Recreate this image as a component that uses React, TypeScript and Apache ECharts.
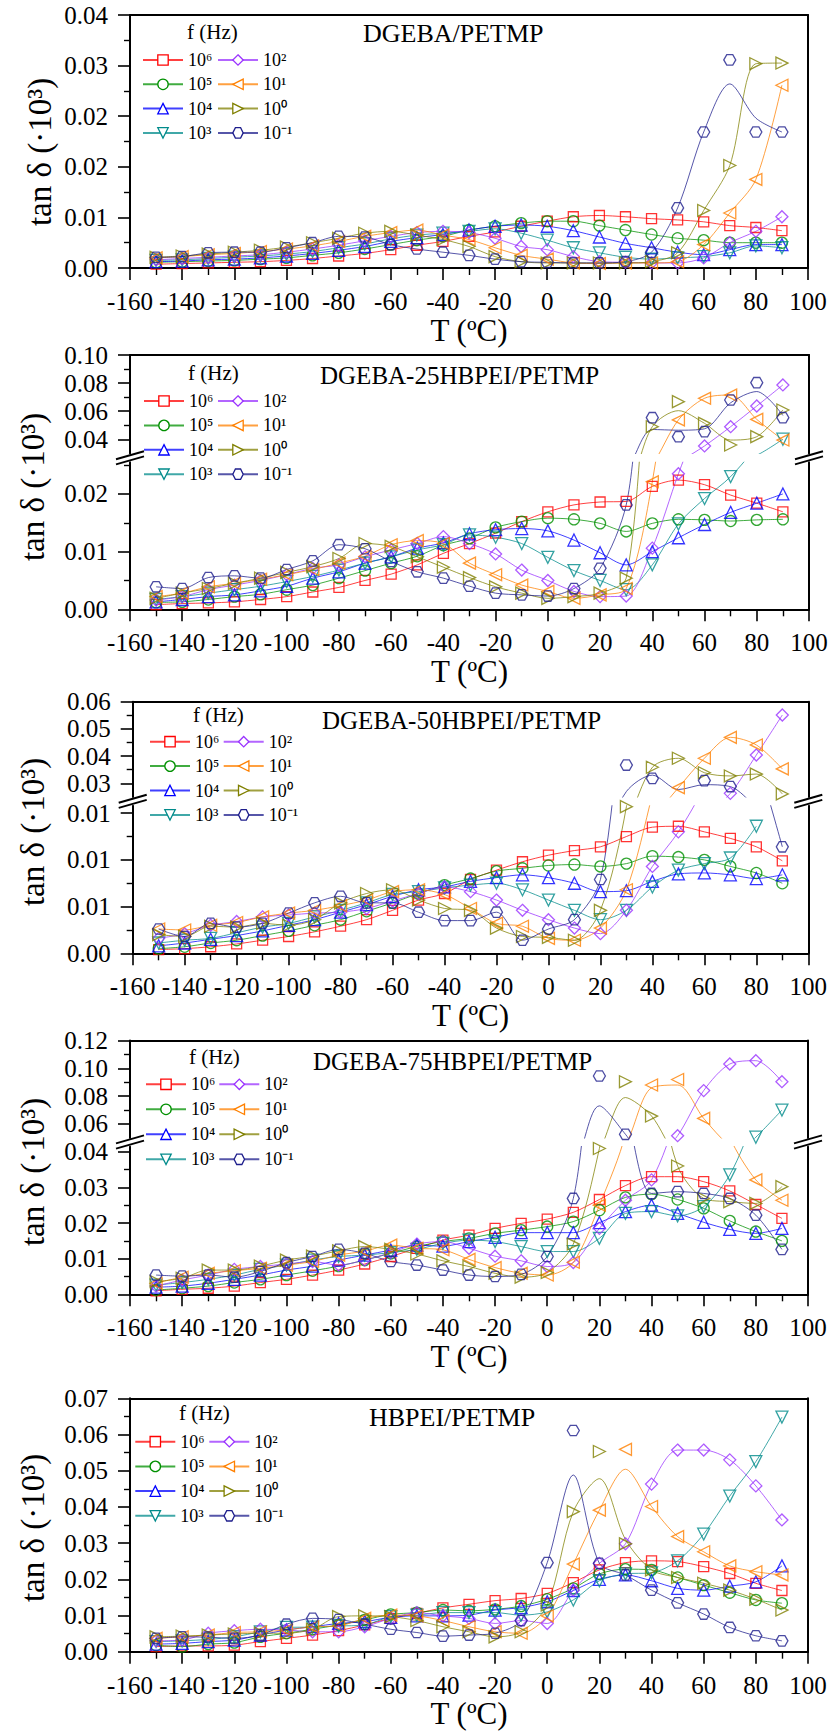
import React, { useEffect, useRef } from "react";
import * as echarts from "echarts";

// ---------------- data ----------------
const TEMPS = [-150, -140, -130, -120, -110, -100, -90, -80, -70, -60, -50, -40, -30, -20, -10, 0, 10, 20, 30, 40, 50, 60, 70, 80, 90];
const FREQ_LABELS = ["10⁶", "10⁵", "10⁴", "10³", "10²", "10¹", "10⁰", "10⁻¹"];
const PANEL_TITLES = ["DGEBA/PETMP", "DGEBA-25HBPEI/PETMP", "DGEBA-50HBPEI/PETMP", "DGEBA-75HBPEI/PETMP", "HBPEI/PETMP"];
const X_LABEL = "T (ºC)";
const Y_LABEL = "tan δ (·10³)";
const LEGEND_TITLE = "f (Hz)";

// Panel 1: DGEBA/PETMP
const P1_F6 = [0.0006, 0.0007, 0.0008, 0.0009, 0.001, 0.0012, 0.0015, 0.0019, 0.0023, 0.0029, 0.0036, 0.0042, 0.005, 0.0057, 0.0066, 0.0074, 0.0081, 0.0083, 0.0081, 0.0078, 0.0076, 0.0073, 0.0067, 0.0064, 0.0059];
const P1_F5 = [0.0009, 0.001, 0.0011, 0.0012, 0.0014, 0.0016, 0.002, 0.0024, 0.003, 0.0037, 0.0044, 0.005, 0.006, 0.0066, 0.0071, 0.0074, 0.0074, 0.0067, 0.006, 0.0053, 0.0047, 0.0044, 0.004, 0.004, 0.004];
const P1_F4 = [0.001, 0.0011, 0.0013, 0.0014, 0.0016, 0.0019, 0.0023, 0.0028, 0.0034, 0.0042, 0.0048, 0.0053, 0.006, 0.0066, 0.0068, 0.0066, 0.0059, 0.0049, 0.0039, 0.0032, 0.0025, 0.0021, 0.0029, 0.0037, 0.0037];
const P1_F3 = [0.0012, 0.0013, 0.0015, 0.0017, 0.0019, 0.0022, 0.0026, 0.0032, 0.0038, 0.0046, 0.0052, 0.0055, 0.0058, 0.0062, 0.0055, 0.0044, 0.0032, 0.0024, 0.0017, 0.0014, 0.0016, 0.0018, 0.0024, 0.0035, 0.0032];
const P1_F2 = [0.0013, 0.0015, 0.0017, 0.0019, 0.0021, 0.0025, 0.003, 0.0036, 0.0043, 0.005, 0.0056, 0.0058, 0.0056, 0.0047, 0.0034, 0.0029, 0.0018, 0.001, 0.0009, 0.0008, 0.0008, 0.0016, 0.004, 0.0058, 0.0081];
const P1_F1 = [0.0016, 0.0018, 0.0021, 0.0023, 0.0026, 0.003, 0.0035, 0.0042, 0.005, 0.0056, 0.006, 0.0052, 0.0045, 0.0032, 0.002, 0.0014, 0.0008, 0.0007, 0.0008, 0.0008, 0.001, 0.0037, 0.0087, 0.014, 0.0289];
const P1_F0 = [0.0017, 0.0019, 0.0022, 0.0025, 0.0028, 0.0033, 0.004, 0.0047, 0.0055, 0.0058, 0.0052, 0.0045, 0.0034, 0.0018, 0.001, 0.0008, 0.0008, 0.0008, 0.0008, 0.001, 0.0024, 0.0091, 0.0162, 0.0323, 0.0324];
const P1_FM1 = [0.0017, 0.0018, 0.0024, 0.0025, 0.0025, 0.0032, 0.004, 0.005, 0.0049, 0.0037, 0.003, 0.0025, 0.002, 0.0014, 0.001, 0.0009, 0.0008, 0.0008, 0.001, 0.0025, 0.0095, 0.0215, 0.0329, 0.0215, 0.0215];
// fitted-curve values that differ from the plotted points (series index -> T -> value)
const P1_CURVE_FIX: Record<number, Record<number, number>> = { 7: { 70: 0.0291, 80: 0.0237 } };

// Panel 2: DGEBA-25HBPEI/PETMP
const P2_F6 = [0.0008, 0.001, 0.0011, 0.0013, 0.0017, 0.0022, 0.003, 0.0038, 0.005, 0.0061, 0.0077, 0.0097, 0.0114, 0.0132, 0.0152, 0.0169, 0.0181, 0.0186, 0.0187, 0.0213, 0.0224, 0.0216, 0.0198, 0.0184, 0.0169];
const P2_F5 = [0.0012, 0.0013, 0.0017, 0.0022, 0.0026, 0.0034, 0.0042, 0.0054, 0.0067, 0.008, 0.0092, 0.0111, 0.0123, 0.0142, 0.0152, 0.0158, 0.0156, 0.0149, 0.0135, 0.0149, 0.0156, 0.0155, 0.0153, 0.0155, 0.0156];
const P2_F4 = [0.0013, 0.0017, 0.0022, 0.0025, 0.0032, 0.004, 0.0054, 0.0065, 0.008, 0.0091, 0.0106, 0.0115, 0.0131, 0.0138, 0.014, 0.0136, 0.012, 0.0098, 0.0077, 0.01, 0.0124, 0.0147, 0.0168, 0.0184, 0.02];
const P2_F3 = [0.0017, 0.0022, 0.0028, 0.0034, 0.004, 0.0048, 0.0057, 0.0068, 0.008, 0.0091, 0.0103, 0.0112, 0.0129, 0.0125, 0.0114, 0.009, 0.0067, 0.005, 0.0034, 0.0077, 0.0148, 0.0192, 0.023, 0.0287, 0.0401];
const P2_F2 = [0.0016, 0.0022, 0.0034, 0.0042, 0.005, 0.006, 0.0071, 0.0077, 0.0091, 0.0103, 0.0114, 0.0126, 0.0114, 0.0096, 0.0068, 0.005, 0.0031, 0.0022, 0.0023, 0.0106, 0.0235, 0.0353, 0.049, 0.0637, 0.0787];
const P2_F1 = [0.0022, 0.0028, 0.0039, 0.0045, 0.0052, 0.006, 0.0069, 0.008, 0.0092, 0.0112, 0.0119, 0.0114, 0.008, 0.006, 0.0042, 0.0031, 0.0019, 0.0025, 0.0036, 0.0221, 0.0538, 0.0692, 0.0715, 0.0542, 0.0395];
const P2_F0 = [0.0019, 0.0028, 0.0036, 0.0045, 0.0054, 0.0064, 0.0074, 0.0088, 0.0114, 0.0109, 0.0091, 0.0073, 0.0055, 0.0039, 0.0028, 0.0019, 0.0022, 0.0028, 0.0054, 0.049, 0.0668, 0.0514, 0.036, 0.0419, 0.0609];
const P2_FM1 = [0.0039, 0.0036, 0.0055, 0.0058, 0.0054, 0.0069, 0.0084, 0.0112, 0.0105, 0.0083, 0.0065, 0.0054, 0.004, 0.0028, 0.0025, 0.0023, 0.0036, 0.0071, 0.0181, 0.0554, 0.0419, 0.0455, 0.068, 0.0803, 0.0554];
const P2_CURVE_FIX: Record<number, Record<number, number>> = {
  6: { 50: 0.0604, 70: 0.0395 },
  7: { 40: 0.047, 50: 0.0465, 60: 0.0475, 70: 0.066, 80: 0.074, 90: 0.057 },
};

// Panel 3: DGEBA-50HBPEI/PETMP
const P3_F6 = [0.0004, 0.0005, 0.0007, 0.001, 0.0014, 0.0018, 0.0023, 0.0029, 0.0036, 0.0046, 0.0057, 0.0064, 0.0079, 0.0089, 0.0098, 0.0105, 0.011, 0.0114, 0.0125, 0.0135, 0.0136, 0.013, 0.0123, 0.0114, 0.0099];
const P3_F5 = [0.0005, 0.0007, 0.0011, 0.0014, 0.0019, 0.0024, 0.003, 0.0036, 0.0045, 0.0054, 0.0064, 0.0073, 0.008, 0.0088, 0.0091, 0.0094, 0.0095, 0.0093, 0.0096, 0.0104, 0.0103, 0.01, 0.0093, 0.0086, 0.0075];
const P3_F4 = [0.0008, 0.0011, 0.0015, 0.0019, 0.0024, 0.003, 0.0036, 0.0044, 0.0052, 0.0061, 0.0068, 0.0071, 0.0077, 0.0081, 0.0084, 0.0081, 0.0075, 0.0066, 0.0067, 0.0077, 0.0085, 0.0086, 0.0084, 0.008, 0.0084];
const P3_F3 = [0.0011, 0.0014, 0.0016, 0.0022, 0.0028, 0.0032, 0.0039, 0.0046, 0.0054, 0.0063, 0.0066, 0.007, 0.0073, 0.0075, 0.0068, 0.0057, 0.0046, 0.0036, 0.0046, 0.0071, 0.0089, 0.0096, 0.0102, 0.0136, null];
const P3_F2 = [0.0016, 0.0021, 0.003, 0.0034, 0.0039, 0.0041, 0.0043, 0.0044, 0.0048, 0.0056, 0.0064, 0.0071, 0.0066, 0.0057, 0.0046, 0.0036, 0.0027, 0.0021, 0.0046, 0.0093, 0.013, 0.018, 0.0263, 0.0404, 0.0551];
const P3_F1 = [0.0026, 0.0025, 0.003, 0.0033, 0.0039, 0.0043, 0.0046, 0.0051, 0.0057, 0.0066, 0.0068, 0.0063, 0.0048, 0.0032, 0.0029, 0.0016, 0.0014, 0.0027, 0.0068, 0.017, 0.0284, 0.0392, 0.0469, 0.0441, 0.0353];
const P3_F0 = [0.002, 0.0018, 0.0029, 0.0028, 0.0032, 0.003, 0.0036, 0.0054, 0.0064, 0.0068, 0.0057, 0.0048, 0.0046, 0.0027, 0.0018, 0.0017, 0.0014, 0.0046, 0.0157, 0.0359, 0.0392, 0.0339, 0.0327, 0.0334, 0.0261];
const P3_FM1 = [0.0026, 0.0018, 0.0032, 0.0028, 0.0032, 0.0043, 0.0054, 0.0061, 0.0054, 0.0054, 0.0044, 0.0035, 0.0035, 0.0044, 0.0014, 0.0026, 0.0036, 0.0079, 0.0367, 0.0318, 0.0245, 0.031, 0.0288, 0.02, 0.0114];
const P3_CURVE_FIX: Record<number, Record<number, number>> = {
  7: { 30: 0.027, 40: 0.033, 50: 0.0277, 60: 0.0295, 70: 0.0288, 80: 0.021 },
};

// Panel 4: DGEBA-75HBPEI/PETMP
const P4_F6 = [0.001, 0.0014, 0.0017, 0.0023, 0.0033, 0.0042, 0.0054, 0.0068, 0.0085, 0.0106, 0.0129, 0.0152, 0.0166, 0.0185, 0.0199, 0.0211, 0.023, 0.0266, 0.0305, 0.033, 0.033, 0.0316, 0.029, 0.0252, 0.0213];
const P4_F5 = [0.0012, 0.0017, 0.0023, 0.0033, 0.0042, 0.0054, 0.0066, 0.0079, 0.0096, 0.0115, 0.0134, 0.0148, 0.0157, 0.0171, 0.018, 0.019, 0.0204, 0.0236, 0.0272, 0.0281, 0.0266, 0.0241, 0.0206, 0.0176, 0.015];
const P4_F4 = [0.002, 0.0023, 0.0031, 0.0042, 0.0054, 0.0068, 0.0079, 0.0096, 0.011, 0.0124, 0.0138, 0.0135, 0.0148, 0.016, 0.0173, 0.0173, 0.0173, 0.0201, 0.0232, 0.025, 0.0227, 0.0202, 0.0182, 0.0171, 0.0185];
const P4_F3 = [0.0026, 0.0033, 0.0042, 0.0054, 0.007, 0.0082, 0.0096, 0.0106, 0.011, 0.0117, 0.0126, 0.0143, 0.0152, 0.0148, 0.0134, 0.012, 0.012, 0.0157, 0.0227, 0.0232, 0.022, 0.0246, 0.0335, 0.0505, 0.07];
const P4_F2 = [0.0023, 0.004, 0.0054, 0.007, 0.0078, 0.0085, 0.0092, 0.0082, 0.0096, 0.0117, 0.0141, 0.0148, 0.0129, 0.0107, 0.0094, 0.0078, 0.0089, 0.0185, 0.0264, 0.0321, 0.0516, 0.084, 0.1031, 0.1055, 0.0904];
const P4_F1 = [0.0031, 0.0048, 0.0059, 0.0066, 0.0073, 0.0082, 0.0092, 0.011, 0.0121, 0.0138, 0.0129, 0.0125, 0.0098, 0.0075, 0.0059, 0.0054, 0.009, 0.025, 0.045, 0.088, 0.092, 0.064, 0.044, 0.0321, 0.0264];
const P4_F0 = [0.0036, 0.0045, 0.0068, 0.0068, 0.0079, 0.0096, 0.0107, 0.0122, 0.0134, 0.0126, 0.0113, 0.0094, 0.0078, 0.0059, 0.0048, 0.0061, 0.0141, 0.0409, 0.0904, 0.0657, 0.036, 0.0269, 0.026, 0.0255, 0.0302];
const P4_FM1 = [0.0054, 0.0051, 0.0054, 0.0048, 0.0064, 0.0089, 0.0106, 0.0126, 0.0115, 0.0092, 0.0082, 0.0068, 0.0054, 0.005, 0.0056, 0.0106, 0.0269, 0.0945, 0.0526, 0.0283, 0.0288, 0.0283, 0.0269, 0.0222, 0.0126];
const P4_CURVE_FIX: Record<number, Record<number, number>> = {
  5: { 40: 0.086, 50: 0.088 },
  6: { 30: 0.079 },
  7: { 20: 0.073 },
};

// Panel 5: HBPEI/PETMP
const P5_F6 = [0.0014, 0.0016, 0.0016, 0.0018, 0.0028, 0.0037, 0.0046, 0.0058, 0.0074, 0.0092, 0.0106, 0.0121, 0.0131, 0.0141, 0.0147, 0.0161, 0.0191, 0.0226, 0.0246, 0.0251, 0.0249, 0.0235, 0.0216, 0.0189, 0.0169];
const P5_F5 = [0.0018, 0.0014, 0.0021, 0.0025, 0.0041, 0.0051, 0.0062, 0.0074, 0.0088, 0.0103, 0.0108, 0.0115, 0.0113, 0.0117, 0.0126, 0.0145, 0.0175, 0.0215, 0.0228, 0.0226, 0.0205, 0.0184, 0.0163, 0.0143, 0.0134];
const P5_F4 = [0.0021, 0.0023, 0.0028, 0.0032, 0.0046, 0.006, 0.0069, 0.0078, 0.0083, 0.0095, 0.0099, 0.0099, 0.0101, 0.0115, 0.0122, 0.0138, 0.0169, 0.02, 0.0212, 0.0196, 0.0175, 0.017, 0.0181, 0.0193, 0.0237];
const P5_F3 = [0.0028, 0.003, 0.0034, 0.0041, 0.0055, 0.0067, 0.0068, 0.0071, 0.0074, 0.0097, 0.0101, 0.0108, 0.0108, 0.0108, 0.0101, 0.011, 0.0143, 0.0196, 0.0215, 0.0218, 0.0251, 0.0325, 0.043, 0.0525, 0.0648];
const P5_F2 = [0.003, 0.0032, 0.0051, 0.0058, 0.0062, 0.006, 0.0055, 0.0055, 0.0069, 0.0092, 0.0108, 0.0099, 0.0092, 0.0078, 0.0086, 0.0078, 0.017, 0.0244, 0.0298, 0.0463, 0.0557, 0.0557, 0.053, 0.0458, 0.0364];
const P5_F1 = [0.0037, 0.0041, 0.0046, 0.0053, 0.0055, 0.006, 0.0069, 0.0071, 0.0092, 0.0101, 0.0099, 0.0086, 0.0069, 0.0055, 0.0051, 0.0099, 0.0242, 0.0391, 0.0559, 0.0401, 0.0318, 0.0276, 0.0237, 0.0221, 0.0212];
const P5_F0 = [0.0041, 0.0043, 0.0046, 0.0049, 0.0051, 0.0051, 0.0062, 0.0097, 0.0099, 0.0097, 0.0086, 0.0069, 0.0055, 0.0041, 0.0055, 0.0129, 0.0387, 0.0553, 0.0298, 0.0226, 0.0205, 0.0189, 0.017, 0.0145, 0.0115];
const P5_FM1 = [0.0037, 0.0041, 0.004, 0.0037, 0.0046, 0.0076, 0.0092, 0.0089, 0.0076, 0.0062, 0.0053, 0.0043, 0.0046, 0.0051, 0.0086, 0.0246, 0.0611, 0.0244, 0.0212, 0.017, 0.0135, 0.0104, 0.0067, 0.0044, 0.003];
const P5_CURVE_FIX: Record<number, Record<number, number>> = {
  5: { 30: 0.0504 },
  6: { 20: 0.0478, 30: 0.031 },
  7: { 10: 0.0488 },
};

// Tick values and labels
const P1_Y_TICKS = [0, 0.008, 0.016, 0.024, 0.032, 0.04];
const P1_Y_LABELS = ["0.00", "0.01", "0.02", "0.02", "0.03", "0.04"];
const P1_Y_MINOR = [0.004, 0.012, 0.02, 0.028, 0.036];
const P2_UP_TICKS = [0.04, 0.06, 0.08, 0.1];
const P2_UP_LABELS = ["0.04", "0.06", "0.08", "0.10"];
const P2_UP_MINOR = [0.05, 0.07, 0.09];
const P2_LO_TICKS = [0, 0.01, 0.02];
const P2_LO_LABELS = ["0.00", "0.01", "0.02"];
const P2_LO_MINOR = [0.005, 0.015, 0.025];
const P3_UP_TICKS = [0.03, 0.04, 0.05, 0.06];
const P3_UP_LABELS = ["0.03", "0.04", "0.05", "0.06"];
const P3_UP_MINOR = [0.035, 0.045, 0.055];
const P3_LO_TICKS = [0, 0.005, 0.01, 0.015];
const P3_LO_LABELS = ["0.00", "0.01", "0.01", "0.01"];
const P3_LO_MINOR = [0.0025, 0.0075, 0.0125];
const P4_UP_TICKS = [0.06, 0.08, 0.1, 0.12];
const P4_UP_LABELS = ["0.06", "0.08", "0.10", "0.12"];
const P4_UP_MINOR = [0.07, 0.09, 0.11];
const P4_LO_TICKS = [0, 0.01, 0.02, 0.03, 0.04];
const P4_LO_LABELS = ["0.00", "0.01", "0.02", "0.03", "0.04"];
const P4_LO_MINOR = [0.005, 0.015, 0.025, 0.035];
const P5_Y_TICKS = [0, 0.01, 0.02, 0.03, 0.04, 0.05, 0.06, 0.07];
const P5_Y_LABELS = ["0.00", "0.01", "0.02", "0.03", "0.04", "0.05", "0.06", "0.07"];
const P5_Y_MINOR = [0.005, 0.015, 0.025, 0.035, 0.045, 0.055, 0.065];

// ---------------- styles / layout ----------------
const FONT = "'Liberation Serif', 'Times New Roman', Times, serif";
const COLORS = ["#ff0000", "#009000", "#0000ff", "#008b8b", "#9a32ff", "#ff8000", "#808000", "#1e1e8c"];
const HEX = "path://M-1,0 L-0.5,-0.866 L0.5,-0.866 L1,0 L0.5,0.866 L-0.5,0.866 Z";
const SYMBOLS = ["rect", "circle", "triangle", "triangle", "diamond", "triangle", "triangle", HEX];
const ROTATES = [0, 0, 0, 180, 0, 90, -90, 0];
const SIZES = [10, 11, 12, 12, 12, 12, 12, 12];

type Seg = { top: number; bottom: number; min: number; max: number; ticks: number[]; labels: string[]; minor: number[] };
type Panel = {
  values: (number | null)[][];
  fix: Record<number, Record<number, number>>;
  left: number;
  right: number;
  segs: Seg[];
  legendTop: number;
  legendGap: number;
  legendX: [number, number];
  fHz: [number, number];
  title: [number, number, number];
  yTitle: [number, number];
  breakY?: number;
};

const PANELS: Panel[] = [
  {
    values: [P1_F6, P1_F5, P1_F4, P1_F3, P1_F2, P1_F1, P1_F0, P1_FM1],
    fix: P1_CURVE_FIX,
    left: 130, right: 808,
    segs: [{ top: 15, bottom: 268, min: 0, max: 0.04, ticks: P1_Y_TICKS, labels: P1_Y_LABELS, minor: P1_Y_MINOR }],
    legendTop: 50, legendGap: 4.3, legendX: [142, 217], fHz: [187, 32], title: [363, 33, 26], yTitle: [40, 152],
  },
  {
    values: [P2_F6, P2_F5, P2_F4, P2_F3, P2_F2, P2_F1, P2_F0, P2_FM1],
    fix: P2_CURVE_FIX,
    left: 130, right: 809,
    segs: [
      { top: 355, bottom: 453.4, min: 0.03, max: 0.1, ticks: P2_UP_TICKS, labels: P2_UP_LABELS, minor: P2_UP_MINOR },
      { top: 462.2, bottom: 609.3, min: 0, max: 0.0255, ticks: P2_LO_TICKS, labels: P2_LO_LABELS, minor: P2_LO_MINOR },
    ],
    legendTop: 391, legendGap: 4.4, legendX: [143, 217], fHz: [188, 373], title: [320, 375, 25], yTitle: [33, 487], breakY: 457.8,
  },
  {
    values: [P3_F6, P3_F5, P3_F4, P3_F3, P3_F2, P3_F1, P3_F0, P3_FM1],
    fix: P3_CURVE_FIX,
    left: 132.7, right: 808.3,
    segs: [
      { top: 701.7, bottom: 796.9, min: 0.025, max: 0.06, ticks: P3_UP_TICKS, labels: P3_UP_LABELS, minor: P3_UP_MINOR },
      { top: 805.7, bottom: 953.3, min: 0, max: 0.0158, ticks: P3_LO_TICKS, labels: P3_LO_LABELS, minor: P3_LO_MINOR },
    ],
    legendTop: 731.7, legendGap: 4.4, legendX: [149, 222.7], fHz: [193, 715], title: [322, 720, 25], yTitle: [33, 832], breakY: 801.3,
  },
  {
    values: [P4_F6, P4_F5, P4_F4, P4_F3, P4_F2, P4_F1, P4_F0, P4_FM1],
    fix: P4_CURVE_FIX,
    left: 130, right: 808,
    segs: [
      { top: 1040.5, bottom: 1137.9, min: 0.05, max: 0.12, ticks: P4_UP_TICKS, labels: P4_UP_LABELS, minor: P4_UP_MINOR },
      { top: 1146.4, bottom: 1294.3, min: 0, max: 0.0415, ticks: P4_LO_TICKS, labels: P4_LO_LABELS, minor: P4_LO_MINOR },
    ],
    legendTop: 1074.3, legendGap: 5, legendX: [145, 218.3], fHz: [189, 1057], title: [313, 1061, 25], yTitle: [33, 1172], breakY: 1142,
  },
  {
    values: [P5_F6, P5_F5, P5_F4, P5_F3, P5_F2, P5_F1, P5_F0, P5_FM1],
    fix: P5_CURVE_FIX,
    left: 130, right: 808,
    segs: [{ top: 1398.3, bottom: 1651.7, min: 0, max: 0.07, ticks: P5_Y_TICKS, labels: P5_Y_LABELS, minor: P5_Y_MINOR }],
    legendTop: 1431.7, legendGap: 4.7, legendX: [134.3, 208.3], fHz: [179, 1413], title: [369, 1417, 26], yTitle: [33, 1528],
  },
];

const BLACK = "#000";

function buildOption() {
  const grid: any[] = [];
  const xAxis: any[] = [];
  const yAxis: any[] = [];
  const series: any[] = [];
  const legend: any[] = [];
  const graphic: any[] = [];

  PANELS.forEach((p, pi) => {
    const width = p.right - p.left;
    p.segs.forEach((s, si) => {
      const gi = grid.length;
      grid.push({ left: p.left, top: s.top, width, height: s.bottom - s.top, containLabel: false });
      const isTop = si === 0;
      const isBottom = si === p.segs.length - 1;
      const xi = xAxis.length;
      xAxis.push({
        type: "value", gridIndex: gi, min: -160, max: 100, interval: 20,
        position: isBottom ? "bottom" : "top",
        axisLine: { show: true, onZero: false, lineStyle: { color: BLACK, width: 2 } },
        axisTick: { show: isBottom, inside: false, length: 12, lineStyle: { color: BLACK, width: 1.6 } },
        minorTick: { show: isBottom, splitNumber: 2, length: 7, lineStyle: { color: BLACK, width: 1.4 } },
        axisLabel: { show: isBottom, margin: 21, fontSize: 25, fontFamily: FONT, color: BLACK },
        splitLine: { show: false },
        minorSplitLine: { show: false },
      });
      if (isBottom && isTop) {
        xAxis.push({
          type: "value", gridIndex: gi, min: -160, max: 100, position: "top",
          axisLine: { show: true, onZero: false, lineStyle: { color: BLACK, width: 2 } },
          axisTick: { show: false }, axisLabel: { show: false }, splitLine: { show: false },
        });
      }
      const yi = yAxis.length;
      const ticks = s.ticks;
      const labels = s.labels;
      yAxis.push({
        type: "value", gridIndex: gi, min: s.min, max: s.max, position: "left",
        axisLine: { show: true, onZero: false, lineStyle: { color: BLACK, width: 2 } },
        axisTick: { show: true, inside: false, length: 12, customValues: ticks, lineStyle: { color: BLACK, width: 1.6 } },
        axisLabel: {
          show: true, customValues: ticks, margin: 22, fontSize: 25, fontFamily: FONT, color: BLACK,
          formatter: (v: number) => {
            const k = ticks.findIndex((t) => Math.abs(t - v) < 1e-9);
            return k >= 0 ? labels[k] : "";
          },
        },
        splitLine: { show: false },
      });
      yAxis.push({
        type: "value", gridIndex: gi, min: s.min, max: s.max, position: "left", offset: 0,
        axisLine: { show: false, onZero: false },
        axisTick: { show: true, inside: false, length: 6, customValues: s.minor, lineStyle: { color: BLACK, width: 1.4 } },
        axisLabel: { show: false }, splitLine: { show: false },
      });
      yAxis.push({
        type: "value", gridIndex: gi, min: s.min, max: s.max, position: "right",
        axisLine: { show: true, onZero: false, lineStyle: { color: BLACK, width: 2 } },
        axisTick: { show: false }, axisLabel: { show: false }, splitLine: { show: false },
      });

      p.values.forEach((vals, fi) => {
        const fix = p.fix[fi] || {};
        const curve = TEMPS.map((t, k) => {
          const v = fix[t] !== undefined ? fix[t] : vals[k];
          return [t, v == null ? "-" : v];
        });
        const pts = TEMPS.map((t, k) => [t, vals[k]]).filter((d) => d[1] != null);
        const c = COLORS[fi];
        series.push({
          type: "line", name: FREQ_LABELS[fi], xAxisIndex: xi, yAxisIndex: yi,
          data: curve, smooth: 0.3, showSymbol: false,
          symbol: SYMBOLS[fi], symbolSize: SIZES[fi], symbolRotate: ROTATES[fi], symbolKeepAspect: true,
          lineStyle: { color: c, width: 1, opacity: 0.75 },
          itemStyle: { color: "rgba(255,255,255,0)", borderColor: c, borderWidth: 1.3 },
          clip: true, silent: true, z: 2, animation: false,
        });
        series.push({
          type: "scatter", name: FREQ_LABELS[fi] + " points", xAxisIndex: xi, yAxisIndex: yi,
          data: pts, symbol: SYMBOLS[fi], symbolSize: SIZES[fi], symbolRotate: ROTATES[fi], symbolKeepAspect: true,
          itemStyle: { color: "rgba(255,255,255,0)", borderColor: c, borderWidth: 1.3 },
          clip: true, silent: true, z: 3, animation: false,
        });
      });
    });

    // legends (two columns)
    [0, 1].forEach((col) => {
      legend.push({
        orient: "vertical", left: p.legendX[col], top: p.legendTop, padding: 0,
        itemWidth: 40, itemHeight: 13, itemGap: p.legendGap, selectedMode: false,
        data: FREQ_LABELS.slice(col * 4, col * 4 + 4),
        textStyle: { fontFamily: FONT, fontSize: 18, color: BLACK, lineHeight: 20 },
        itemStyle: { color: "#fff", borderWidth: 1.3 },
      });
    });

    // texts
    graphic.push({
      type: "text", x: p.title[0], y: p.title[1], z: 100,
      style: { text: PANEL_TITLES[pi], fontFamily: FONT, fontSize: p.title[2], fill: BLACK, align: "left", verticalAlign: "middle" },
    });
    graphic.push({
      type: "text", x: p.fHz[0], y: p.fHz[1], z: 100,
      style: { text: LEGEND_TITLE, fontFamily: FONT, fontSize: 21, fill: BLACK, align: "left", verticalAlign: "middle" },
    });
    graphic.push({
      type: "text", x: p.yTitle[0], y: p.yTitle[1], rotation: Math.PI / 2, z: 100,
      style: { text: Y_LABEL, fontFamily: FONT, fontSize: 33, fill: BLACK, align: "center", verticalAlign: "middle" },
    });
    const axisY = p.segs[p.segs.length - 1].bottom;
    graphic.push({
      type: "text", x: (p.left + p.right) / 2, y: axisY + 62, z: 100,
      style: { text: X_LABEL, fontFamily: FONT, fontSize: 31, fill: BLACK, align: "center", verticalAlign: "middle" },
    });
    if (p.breakY !== undefined) {
      const yb = p.breakY;
      [p.left, p.right].forEach((x) => {
        [-2.6, 2.6].forEach((off) => {
          graphic.push({
            type: "line", z: 100,
            shape: { x1: x - 14, y1: yb + off + 4, x2: x + 14, y2: yb + off - 4 },
            style: { stroke: BLACK, lineWidth: 2 },
          });
        });
      });
    }
  });

  return {
    animation: false,
    backgroundColor: "#fff",
    textStyle: { fontFamily: FONT },
    grid, xAxis, yAxis, series, legend, graphic,
  };
}

export default function App() {
  const ref = useRef<HTMLDivElement>(null);
  useEffect(() => {
    if (!ref.current) return;
    const chart = echarts.init(ref.current, undefined, { renderer: "svg", width: 832, height: 1733 });
    chart.setOption(buildOption() as any);
    return () => chart.dispose();
  }, []);
  return (
    <div
      ref={ref}
      style={{ position: "absolute", left: 0, top: 0, width: 832, height: 1733, background: "#fff" }}
    />
  );
}
